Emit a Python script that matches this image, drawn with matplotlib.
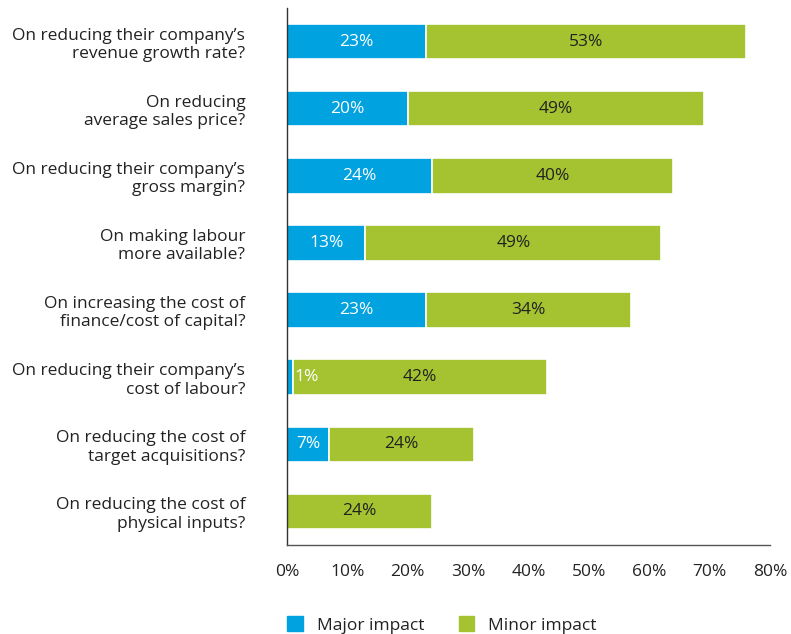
import matplotlib
matplotlib.use("Agg")
import matplotlib.pyplot as plt
from matplotlib.patches import Patch

plt.rcParams['font.family'] = ['Open Sans', 'DejaVu Sans']

categories = [
    "On reducing their company\u2019s\nrevenue growth rate?",
    "On reducing\naverage sales price?",
    "On reducing their company\u2019s\ngross margin?",
    "On making labour\nmore available?",
    "On increasing the cost of\nfinance/cost of capital?",
    "On reducing their company\u2019s\ncost of labour?",
    "On reducing the cost of\ntarget acquisitions?",
    "On reducing the cost of\nphysical inputs?",
]
major = [23, 20, 24, 13, 23, 1, 7, 0]
minor = [53, 49, 40, 49, 34, 42, 24, 24]
xticks = [0, 10, 20, 30, 40, 50, 60, 70, 80]
series_names = ["Major impact", "Minor impact"]

blue = "#00A3DF"
green = "#A5C330"
FS = 12.5

fig = plt.figure(figsize=(7.91, 6.34), dpi=100)
ax = fig.add_axes([287/791, 1-545/634, (770-287)/791, (545-8)/634])

y = list(range(len(categories)))
ax.barh(y, major, height=0.53, color=blue, edgecolor="white", linewidth=1.2)
ax.barh(y, minor, left=major, height=0.53, color=green, edgecolor="white", linewidth=1.2)

for i in y:
    if major[i] > 0:
        if major[i] >= 3:
            ax.text(major[i] / 2, i, f"{major[i]}%", ha="center", va="center",
                    color="white", fontsize=FS)
        else:
            ax.text(major[i] + 0.2, i, f"{major[i]}%", ha="left", va="center",
                    color="white", fontsize=FS)
    ax.text(major[i] + minor[i] / 2, i, f"{minor[i]}%", ha="center", va="center",
            color="#222222", fontsize=FS)

ax.set_ylim(len(categories) - 0.5, -0.5)
ax.set_xlim(0, 80)
ax.set_yticks(y)
ax.set_yticklabels(categories, fontsize=FS, color="#222222", linespacing=1.2)
ax.set_xticks(xticks)
ax.set_xticklabels([f"{t}%" for t in xticks], fontsize=FS, color="#222222")
ax.tick_params(axis="y", length=0, pad=30)
ax.tick_params(axis="x", length=0, pad=14)
for s in ["top", "right"]:
    ax.spines[s].set_visible(False)
ax.spines["left"].set_color("#333333")
ax.spines["bottom"].set_color("#555555")
ax.spines["left"].set_linewidth(1.0)
ax.spines["bottom"].set_linewidth(1.0)

handles = [Patch(color=blue, label=series_names[0]), Patch(color=green, label=series_names[1])]
fig.legend(handles=handles, loc="center", bbox_to_anchor=(442 / 791, 1 - 625 / 634),
           ncol=2, frameon=False, fontsize=FS, handlelength=0.9, handleheight=0.9,
           columnspacing=2.0, handletextpad=0.8, labelcolor="#222222")

fig.savefig("out.png", dpi=100)
